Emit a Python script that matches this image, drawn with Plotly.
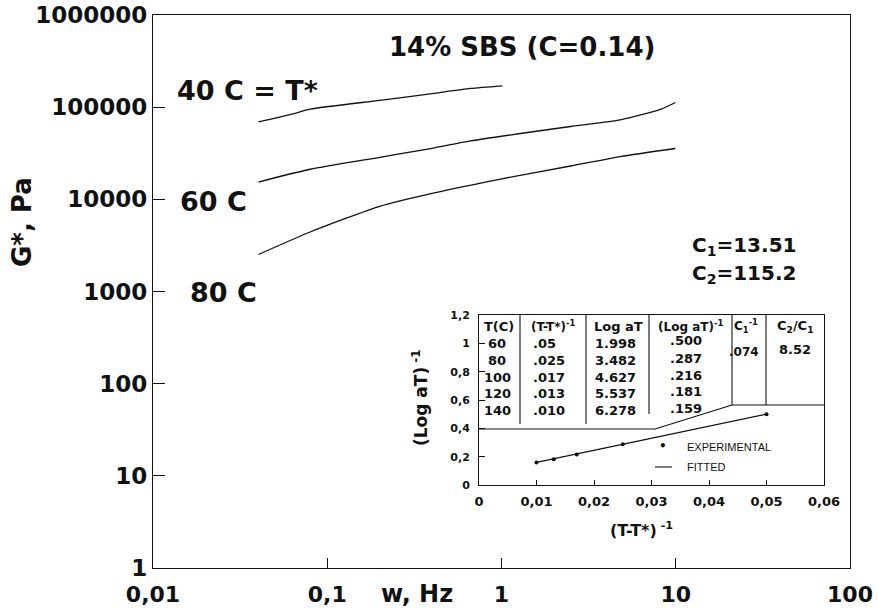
import plotly.graph_objects as go

# ---------------- data ----------------
# main chart: frequency (Hz) and complex modulus G* (Pa)
w_40 = [0.0403, 0.0627, 0.0798, 0.2, 0.4, 0.664, 1.01]
g_40 = [69200, 84000, 95100, 118600, 140600, 159700, 170600]

w_60 = [0.0403, 0.0798, 0.2, 0.4, 0.664, 2.49, 4.81, 8.24, 9.95]
g_60 = [15400, 21200, 28600, 35800, 43000, 61700, 72800, 95100, 112400]

w_80 = [0.0403, 0.0798, 0.2, 0.4, 1.02, 2.49, 4.81, 9.95]
g_80 = [2520, 4420, 8400, 11600, 16800, 23000, 29100, 35600]

x_tickvals = [0.01, 0.1, 1, 10, 100]
x_ticktext = ["0,01", "0,1", "1", "10", "100"]
y_tickvals = [1, 10, 100, 1000, 10000, 100000, 1000000]
y_ticktext = ["1", "10", "100", "1000", "10000", "100000", "1000000"]

# inset table / shift-factor data
T_C = ["60", "80", "100", "120", "140"]
inv_dT_txt = [".05", ".025", ".017", ".013", ".010"]
inv_dT = [0.05, 0.025, 0.017, 0.013, 0.010]
log_aT_txt = ["1.998", "3.482", "4.627", "5.537", "6.278"]
inv_log_aT_txt = [".500", ".287", ".216", ".181", ".159"]
inv_log_aT = [0.500, 0.287, 0.216, 0.181, 0.159]
C1_inv = 0.074
C2_over_C1 = 8.52
fit_x = [0.010, 0.050]

ix_tickvals = [0, 0.01, 0.02, 0.03, 0.04, 0.05, 0.06]
ix_ticktext = ["0", "0,01", "0,02", "0,03", "0,04", "0,05", "0,06"]
iy_tickvals = [0, 0.2, 0.4, 0.6, 0.8, 1.0, 1.2]
iy_ticktext = ["0", "0,2", "0,4", "0,6", "0,8", "1", "1,2"]

# ---------------- layout helpers ----------------
W, H = 878, 608
L, R, T, B = 153, 850, 15, 568


def px(x):
    return (x - L) / (R - L)


def py(y):
    return (B - y) / (B - T)


FONT = "DejaVu Sans"
INK = "#111111"

fig = go.Figure()

for wx, gy in [(w_40, g_40), (w_60, g_60), (w_80, g_80)]:
    fig.add_trace(go.Scatter(x=wx, y=gy, mode="lines", line=dict(color=INK, width=1.3, shape="spline", smoothing=0.6),
                             showlegend=False, hoverinfo="skip", xaxis="x", yaxis="y"))

# inset: experimental points and fitted line
fit_y = [C1_inv + C2_over_C1 * v for v in fit_x]
fig.add_trace(go.Scatter(x=fit_x, y=fit_y, mode="lines", line=dict(color=INK, width=1.2),
                         showlegend=False, hoverinfo="skip", xaxis="x2", yaxis="y2"))
fig.add_trace(go.Scatter(x=inv_dT, y=inv_log_aT, mode="markers", marker=dict(color=INK, size=4),
                         showlegend=False, hoverinfo="skip", xaxis="x2", yaxis="y2"))

ix0, ix1, iy0, iy1 = 479, 824, 315, 485

fig.update_layout(
    width=W, height=H,
    margin=dict(l=L, r=W - R, t=T, b=H - B, autoexpand=False),
    paper_bgcolor="white", plot_bgcolor="white",
    showlegend=False,
    xaxis=dict(type="log", range=[-2, 2], tickvals=x_tickvals, ticktext=x_ticktext, automargin=False,
               ticks="inside", ticklen=10, tickcolor=INK, tickwidth=1,
               showline=True, linecolor=INK, linewidth=1.2, mirror=True, showgrid=False, zeroline=False,
               tickfont=dict(family=FONT, size=22, color=INK, weight="bold"), ticklabelstandoff=6),
    yaxis=dict(type="log", range=[0, 6], tickvals=y_tickvals, ticktext=y_ticktext, automargin=False,
               ticks="inside", ticklen=12, tickcolor=INK, tickwidth=1,
               showline=True, linecolor=INK, linewidth=1.2, mirror=True, showgrid=False, zeroline=False,
               tickfont=dict(family=FONT, size=23, color=INK, weight="bold"), ticklabelstandoff=0),
    xaxis2=dict(domain=[px(ix0), px(ix1)], anchor="y2", range=[0, 0.06], automargin=False,
                tickvals=ix_tickvals, ticktext=ix_ticktext, ticks="inside", ticklen=5, tickcolor=INK,
                showline=True, linecolor=INK, linewidth=1, mirror=True, showgrid=False, zeroline=False,
                tickfont=dict(family=FONT, size=13, color=INK, weight="bold"), ticklabelstandoff=4),
    yaxis2=dict(domain=[py(iy1), py(iy0)], anchor="x2", range=[0, 1.2], automargin=False,
                tickvals=iy_tickvals, ticktext=iy_ticktext, ticks="inside", ticklen=6, tickcolor=INK,
                showline=True, linecolor=INK, linewidth=1, mirror=True, showgrid=False, zeroline=False,
                tickfont=dict(family=FONT, size=11, color=INK, weight="bold"), ticklabelstandoff=6),
)


def ann(x, y, text, size, bold=True, xanchor="center", textangle=0, family=FONT):
    fig.add_annotation(x=px(x), y=py(y), xref="paper", yref="paper", text=text, showarrow=False,
                       xanchor=xanchor, yanchor="middle", textangle=textangle,
                       font=dict(family=family, size=size, color=INK, weight="bold" if bold else "normal"))


# main annotations
ann(522, 47, "14% SBS (C=0.14)", 26)
ann(175, 90, "40 C = T*", 27, xanchor="left")
ann(178, 201, "60 C", 27, xanchor="left")
ann(188, 292, "80 C", 27, xanchor="left")
ann(690, 246, "C<sub>1</sub>=13.51", 20, xanchor="left")
ann(690, 274, "C<sub>2</sub>=115.2", 20, xanchor="left")
ann(417, 594, "w, Hz", 24)
ann(22, 222, "G*, Pa", 26, textangle=-90)

# inset axis titles
ann(641, 529, "(T-T*)<sup> -1</sup>", 16)
ann(420, 398, "(Log aT)<sup> -1</sup>", 17, textangle=-90)

# table lines (in inset data coordinates)
def x2(p):
    return (p - ix0) / (ix1 - ix0) * 0.06


def y2(p):
    return (iy1 - p) / (iy1 - iy0) * 1.2


line_style = dict(color=INK, width=1.1)
segments = [
    (ix0, 429, 655, 429),
    (655, 429, 732, 405),
    (732, 405, ix1, 405),
    (520, iy0, 520, 424),
    (586, iy0, 586, 424),
    (649, iy0, 649, 414),
    (732, iy0, 732, 405),
    (766, iy0, 766, 405),
    (655, 467, 672, 467),
]
for (a, b, c, d) in segments:
    fig.add_shape(type="line", xref="x2", yref="y2", x0=x2(a), y0=y2(b), x1=x2(c), y1=y2(d), line=line_style)

# table header
hdr_y = 326
ann(499, hdr_y, "T(C)", 13)
ann(553, hdr_y, "(T-T*)<sup>-1</sup>", 12)
ann(618, hdr_y, "Log aT", 13)
ann(690, hdr_y, "(Log aT)<sup>-1</sup>", 12)
ann(746, hdr_y, "C<sub>1</sub><sup>-1</sup>", 12)
ann(795, hdr_y, "C<sub>2</sub>/C<sub>1</sub>", 13)

row_y = [343, 360, 377, 393.5, 410]
for i in range(len(T_C)):
    yy = row_y[i]
    ann(497, yy, T_C[i], 13)
    ann(531, yy, inv_dT_txt[i], 13, xanchor="left")
    ann(615, yy, log_aT_txt[i], 13)
    ann(686, yy - 2, inv_log_aT_txt[i], 13)
ann(744, 352, f"{C1_inv:.3f}".lstrip("0"), 12)
ann(795, 349, f"{C2_over_C1:.2f}", 13)

# inset legend
ann(663, 446, "•", 12)
ann(685, 447, "EXPERIMENTAL", 11, bold=False, xanchor="left", family="Liberation Sans")
ann(685, 467, "FITTED", 11, bold=False, xanchor="left", family="Liberation Sans")

fig.write_html("out.html", config={"displayModeBar": False},
               post_script="document.body.style.margin='0';document.body.style.overflow='hidden';")
